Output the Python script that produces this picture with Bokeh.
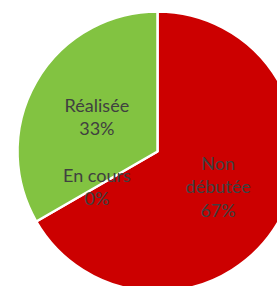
import math
from bokeh.plotting import figure
from bokeh.models import Range1d, ColumnDataSource
from bokeh.core.properties import value
from bokeh.embed import file_html
from bokeh.resources import INLINE

categories = ["Non\ndébutée", "En cours", "Réalisée"]
values = [2, 0, 1]
colors = ["#CC0000", "#A0A0A0", "#82C341"]

W, H = 277, 286
p = figure(width=W, height=H, output_backend="svg", toolbar_location=None,
           x_range=Range1d(0, W), y_range=Range1d(-H, 0),
           min_border=0, outline_line_color=None, background_fill_color="white",
           border_fill_color="white")
p.axis.visible = False
p.grid.visible = False

cx, cy, R = 157, -151, 140
total = sum(values)
starts, ends, cols, lx, ly, labels = [], [], [], [], [], []
a = math.pi / 2
for cat, v, c in zip(categories, values, colors):
    sweep = 2 * math.pi * v / total
    end = a
    start = a - sweep
    if v > 0:
        starts.append(start)
        ends.append(end)
        cols.append(c)
    mid = (start + end) / 2
    lx.append(cx + 0.5 * R * math.cos(mid))
    ly.append(cy + 0.5 * R * math.sin(mid))
    labels.append(f"{cat}\n{round(100 * v / total)}%")
    a = start

wsrc = ColumnDataSource(dict(start=starts, end=ends, color=cols))
lsrc = ColumnDataSource(dict(x=lx, y=ly, label=labels))
p.wedge(x=cx, y=cy, radius=R, start_angle="start", end_angle="end", fill_color="color",
        line_color="white", line_width=2.5, source=wsrc)
p.text(x="x", y="y", text="label", source=lsrc, text_align="center", text_baseline="middle",
       text_font=value("Lato"), text_font_size="18px", text_color="#404040", text_line_height=1.08)

open("out.html", "w").write(file_html(p, INLINE))
